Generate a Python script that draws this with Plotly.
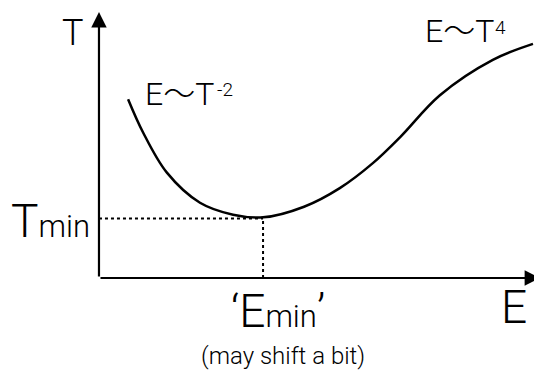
import plotly.graph_objects as go

# curve, arbitrary units (E along x, T along y)
curve_E = [0.66, 1.00, 1.54, 2.29, 3.04, 3.72, 4.65, 5.46, 6.21, 6.83, 7.73, 8.93, 9.84]
curve_T = [6.72, 5.47, 3.96, 2.83, 2.38, 2.28, 2.68, 3.38, 4.32, 5.30, 6.87, 8.20, 8.80]

E_min = 3.72
T_min = 2.24

FONT = "Roboto, Liberation Sans, Noto Sans CJK JP"
BIG = 46

fig = go.Figure()

# dotted guide lines to the minimum
fig.add_trace(go.Scatter(x=[0, E_min], y=[T_min, T_min], mode="lines",
                         line=dict(color="black", width=2, dash="dot")))
fig.add_trace(go.Scatter(x=[E_min, E_min], y=[0, T_min], mode="lines",
                         line=dict(color="black", width=2, dash="dot")))

# the curve
fig.add_trace(go.Scatter(x=curve_E, y=curve_T, mode="lines",
                         line=dict(color="black", width=2.5, shape="spline", smoothing=1.0)))

# axes drawn as arrows
fig.add_annotation(x=10, y=0, ax=0, ay=0, xref="x", yref="y", axref="x", ayref="y",
                   text="", showarrow=True, arrowhead=2, arrowsize=1.4, arrowwidth=2.2,
                   arrowcolor="black")
fig.add_annotation(x=0, y=10, ax=0, ay=0, xref="x", yref="y", axref="x", ayref="y",
                   text="", showarrow=True, arrowhead=2, arrowsize=1.4, arrowwidth=2.2,
                   arrowcolor="black")

def label(x, y, text, size, xanchor="center"):
    fig.add_annotation(x=x, y=y, xref="x", yref="y", text=text, showarrow=False,
                       xanchor=xanchor, yanchor="middle",
                       font=dict(family=FONT, size=size, color="black", weight=300))

label(-0.6, 9.2, "T", 36)
label(-2.05, 2.15, "T<span style='font-size:31px'>min</span>", BIG, xanchor="left")
label(1.0, 6.9, "E〜T", 32, xanchor="left")
label(2.62, 7.07, "-2", 19, xanchor="left")
label(7.35, 9.3, "E〜T", 32, xanchor="left")
label(8.93, 9.42, "4", 19, xanchor="left")
label(4.06, -1.25, "‘E<span style='font-size:31px'>min</span>’", BIG)
label(9.41, -1.1, "E", BIG)
label(4.17, -2.95, "(may shift a bit)", 24)

# page has an 8px body margin, so the figure is a bit smaller than the window
fig.update_layout(
    width=534, height=363,
    margin=dict(l=0, r=0, t=0, b=0),
    paper_bgcolor="white", plot_bgcolor="white",
    showlegend=False,
    xaxis=dict(range=[-2.063, 10.045], visible=False, fixedrange=True),
    yaxis=dict(range=[-3.496, 10.15], visible=False, fixedrange=True),
)

fig.write_html("out.html", config={"displayModeBar": False})
